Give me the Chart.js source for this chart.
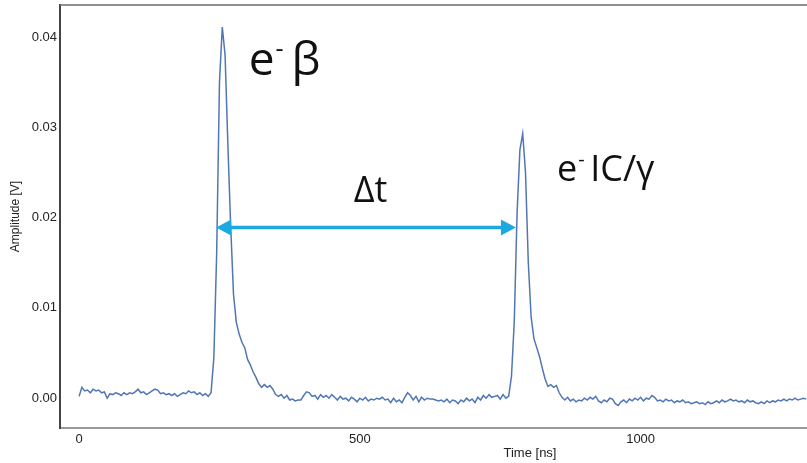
<!DOCTYPE html>
<html lang="en">
<head>
  <meta charset="UTF-8">
  <title>Amplitude vs Time</title>
  <script src="https://cdn.jsdelivr.net/npm/chart.js"></script>
  <style>
    html, body {
      margin: 0;
      padding: 0;
      background: #fff;
      overflow: hidden;
    }

    /* the scope trace is wider than the window; the right part runs off screen */
    .wrap {
      width: 1000px;
      height: 463px;
    }
  </style>
</head>
<body>

<div class="wrap">
  <canvas id="trace"></canvas>
</div>

<script>
  // sampling step of the digitiser trace
  const stepNs = 5;

  // amplitude in mV, one value every 5 ns, starting at t = 0
  const preTrigger = [
    0.2, 1.2, 0.8, 0.9, 0.6, 1.0, 0.8, 0.9, 0.6, 0.7,
    0.0, 0.5, 0.4, 0.6, 0.5, 0.3, 0.6, 0.4, 0.6, 0.5,
    0.7, 1.0, 0.6, 0.7, 0.4, 0.6, 0.8, 1.0, 0.9, 0.5,
    0.6, 0.4, 0.5, 0.3, 0.5, 0.2, 0.4, 0.6, 0.5, 0.8,
    0.6, 0.7, 0.4, 0.6, 0.3, 0.5, 0.2
  ];                                     // 0 .. 230 ns
  const betaPulse = [
    0.6, 4.5, 16.0, 35.0, 41.1, 38.0, 28.0, 19.0, 11.5, 8.4,
    7.1, 6.2, 5.6, 4.3, 3.7, 2.9, 2.3, 1.6, 1.2, 1.5,
    1.2, 1.4, 1.0, 0.4
  ];                                     // 235 .. 350 ns
  const betweenPulses = [
    0.2, 0.4, 0.0, 0.3, -0.2, -0.1, -0.3, -0.2, -0.2, 0.3,
    0.7, 0.6, 0.2, 0.3, -0.1, 0.4, 0.1, 0.3, 0.0, 0.4,
    0.1, -0.2, 0.2, -0.1, 0.0, -0.3, 0.1, -0.1, -0.4, 0.0,
    -0.2, 0.1, -0.3, -0.1, -0.2, 0.0, -0.1, 0.1, -0.2, -0.1,
    -0.5, 0.0, -0.4, -0.2, -0.5, 0.1, 0.6, 0.3, -0.2, 0.2,
    -0.4, 0.1, -0.2, 0.0, -0.1, -0.1, -0.2, -0.3, -0.2, -0.4,
    -0.1, -0.5, -0.2, -0.3, -0.6, -0.2, -0.4, 0.0, -0.3, -0.1,
    -0.5, 0.1, -0.2, 0.3, 0.0, 0.4, 0.1, 0.2, 0.3, -0.1,
    0.4, 0.0, 0.2
  ];                                     // 355 .. 765 ns
  const icPulse = [
    2.4, 8.5, 20.5, 27.5, 29.3, 25.0, 15.0, 9.0, 6.6, 5.6,
    4.6, 3.3, 2.1, 1.3, 1.5, 1.2, 1.4, 0.6, 0.1
  ];                                     // 770 .. 860 ns
  const afterPulses = [
    -0.2, 0.1, -0.3, -0.1, -0.4, -0.2, -0.3, 0.0, -0.2, 0.1,
    -0.1, 0.2, -0.3, -0.5, -0.2, -0.4, 0.0, -0.1, -0.6, -0.8,
    -0.4, -0.2, -0.5, -0.1, -0.3, 0.0, -0.2, 0.1, -0.3, 0.0,
    -0.1, 0.3, 0.1, -0.3, -0.2, -0.4, -0.1, -0.3, -0.2, -0.5,
    -0.3, -0.4, -0.2, -0.5, -0.4, -0.6, -0.5, -0.4, -0.6, -0.5,
    -0.7, -0.4, -0.6, -0.5, -0.3, -0.5, -0.2, -0.4, -0.3, -0.1,
    -0.3, -0.2, -0.4, -0.3, -0.5, -0.2, -0.4, -0.3, -0.5, -0.6,
    -0.4, -0.6, -0.3, -0.5, -0.3, -0.4, -0.2, -0.3, -0.1, -0.3,
    -0.1, -0.2, 0.0, -0.2, -0.1, 0.0, -0.1
  ];                                     // 865 .. 1295 ns

  const timeTicks = [0, 500, 1000, 1500];
  const ampTicks = [0.00, 0.01, 0.02, 0.03, 0.04];

  const amplitudeMv = [].concat(preTrigger, betaPulse, betweenPulses, icPulse, afterPulses);
  const points = amplitudeMv.map((mv, i) => ({ x: i * stepNs, y: mv / 1000 }));

  const ARROW = '#1ca9e1';
  const LABEL_FONT = '"Open Sans", "Noto Sans", sans-serif';

  // Δt arrow and the pulse labels, anchored in data units
  const annotations = {
    id: 'annotations',
    afterDatasetsDraw(chart) {
      const { ctx, scales: { x, y } } = chart;
      ctx.save();

      // double arrow between the two pulses
      const x1 = x.getPixelForValue(244);
      const x2 = x.getPixelForValue(778);
      const ya = y.getPixelForValue(0.0189);
      const head = 15, half = 8;
      ctx.strokeStyle = ARROW;
      ctx.fillStyle = ARROW;
      ctx.lineWidth = 3.5;
      ctx.beginPath();
      ctx.moveTo(x1 + head - 2, ya);
      ctx.lineTo(x2 - head + 2, ya);
      ctx.stroke();
      ctx.beginPath();
      ctx.moveTo(x1, ya);
      ctx.lineTo(x1 + head, ya - half);
      ctx.lineTo(x1 + head, ya + half);
      ctx.closePath();
      ctx.fill();
      ctx.beginPath();
      ctx.moveTo(x2, ya);
      ctx.lineTo(x2 - head, ya - half);
      ctx.lineTo(x2 - head, ya + half);
      ctx.closePath();
      ctx.fill();

      ctx.fillStyle = '#111';
      ctx.textBaseline = 'alphabetic';
      ctx.textAlign = 'left';

      // e⁻ followed by the rest of the label
      function electronLabel(t, v, size, gap, rest) {
        const px = x.getPixelForValue(t);
        const py = y.getPixelForValue(v);
        ctx.font = size + 'px ' + LABEL_FONT;
        ctx.fillText('e', px, py);
        const ew = ctx.measureText('e').width;
        ctx.font = Math.round(size * 0.55) + 'px ' + LABEL_FONT;
        ctx.fillText('-', px + ew + 1, py - size * 0.4);
        ctx.font = size + 'px ' + LABEL_FONT;
        ctx.fillText(rest, px + ew + gap, py);
      }

      electronLabel(302, 0.03577, 46, 17, 'β');
      electronLabel(851, 0.02409, 36, 13, 'IC/γ');

      ctx.font = '36px ' + LABEL_FONT;
      ctx.fillText('Δt', x.getPixelForValue(489), y.getPixelForValue(0.02176));

      // frame line along the top of the plot
      const area = chart.chartArea;
      ctx.strokeStyle = '#6b6b6b';
      ctx.lineWidth = 1.5;
      ctx.beginPath();
      ctx.moveTo(area.left, area.top);
      ctx.lineTo(area.right, area.top);
      ctx.stroke();

      ctx.restore();
    }
  };

  const tickFont = { family: '"Liberation Sans", Arial, sans-serif', size: 13 };

  new Chart(document.getElementById('trace'), {
    type: 'line',
    data: {
      datasets: [{
        data: points,
        borderColor: '#5176b5',
        borderWidth: 1.5,
        pointRadius: 0,
        tension: 0,
        fill: false
      }]
    },
    options: {
      responsive: true,
      maintainAspectRatio: false,
      animation: false,
      layout: { padding: { top: 5, left: 0, right: 0, bottom: 0 } },
      plugins: {
        legend: { display: false },
        tooltip: { enabled: false }
      },
      scales: {
        x: {
          type: 'linear',
          min: -34,
          max: 1640,
          afterBuildTicks: s => { s.ticks = timeTicks.map(v => ({ value: v })); },
          afterFit: s => { s.height = 35; s.paddingLeft = 0; s.paddingRight = 0; },
          grid: { display: false, drawTicks: false },
          border: { display: true, color: '#9a9a9a', width: 2 },
          ticks: {
            padding: 4,
            color: '#222',
            font: tickFont,
            maxRotation: 0,
            callback: v => String(v)
          },
          title: {
            display: true,
            text: 'Time [ns]',
            color: '#222',
            font: { family: '"Liberation Sans", Arial, sans-serif', size: 13 },
            padding: { top: 0, bottom: 2 }
          }
        },
        y: {
          type: 'linear',
          min: -0.0033,
          max: 0.04355,
          afterBuildTicks: s => { s.ticks = ampTicks.map(v => ({ value: v })); },
          afterFit: s => { s.width = 60; s.paddingTop = 0; s.paddingBottom = 0; },
          grid: { display: false, drawTicks: false },
          border: { display: true, color: '#444', width: 2 },
          ticks: {
            padding: 3,
            color: '#222',
            font: tickFont,
            callback: v => Number(v).toFixed(2)
          },
          title: {
            display: true,
            text: 'Amplitude [V]',
            color: '#222',
            font: { family: '"Liberation Sans", Arial, sans-serif', size: 12 },
            padding: { top: 8, bottom: 0 }
          }
        }
      }
    },
    plugins: [annotations]
  });
</script>

</body>
</html>
